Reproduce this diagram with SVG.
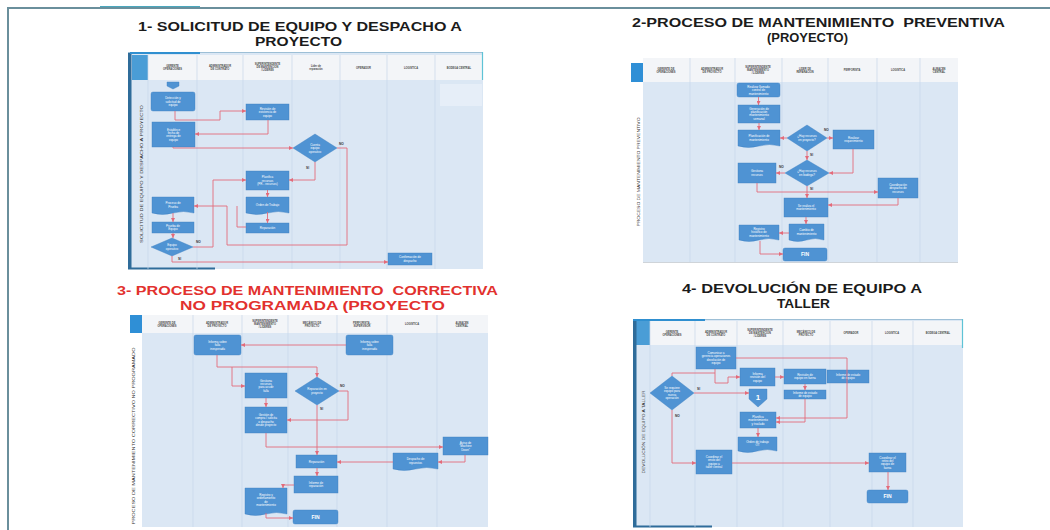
<svg xmlns="http://www.w3.org/2000/svg" width="1050" height="530" viewBox="0 0 1050 530">
<defs>
<marker id="a" markerUnits="userSpaceOnUse" markerWidth="4" markerHeight="4" refX="4" refY="2" orient="auto"><path d="M0,0 L4,2 L0,4 z" fill="#e36b7a"/></marker>
<style>
.title{font-family:"Liberation Sans",Arial,sans-serif;font-weight:bold;font-size:13px;fill:#1b1b1b}
.red{fill:#e2312e}
.body{fill:#dbe7f4}
.hdr{fill:#f3f5f8}
.sep{stroke:#c7d7ea;stroke-width:0.7}
.n{fill:#4f93d3;stroke:#3d7fbf;stroke-width:0.4}
.nt{font-family:"Liberation Sans",Arial,sans-serif;font-size:3px;fill:#ffffff;text-anchor:middle}
.fin{font-family:"Liberation Sans",Arial,sans-serif;font-size:5px;font-weight:bold;fill:#ffffff;text-anchor:middle}
.ht{font-family:"Liberation Sans",Arial,sans-serif;font-size:2.6px;font-weight:bold;fill:#4a4a4a;text-anchor:middle}
.lbl{font-family:"Liberation Sans",Arial,sans-serif;font-size:3.2px;font-weight:bold;fill:#333}
.side{font-family:"Liberation Sans",Arial,sans-serif;font-size:4px;fill:#333;text-anchor:middle}
.c{stroke:#e36b7a;stroke-width:0.9;fill:none;marker-end:url(#a)}
.cn{stroke:#e36b7a;stroke-width:0.9;fill:none}
</style>
</defs>
<rect width="1050" height="530" fill="#ffffff"/>
<!-- outer frame -->
<path d="M8,530 V8 H1050" fill="none" stroke="#6a8f9c" stroke-width="2"/>
<path d="M100,6.5 H200" stroke="#4aa7bd" stroke-width="1.2"/>

<!-- titles -->
<g id="titles">
<text class="title" x="138" y="31" textLength="324" lengthAdjust="spacingAndGlyphs">1- SOLICITUD DE EQUIPO Y DESPACHO A</text>
<text class="title" x="255" y="46" textLength="87" lengthAdjust="spacingAndGlyphs">PROYECTO</text>
<text class="title" x="632" y="27" textLength="373" lengthAdjust="spacingAndGlyphs" style="white-space:pre">2-PROCESO DE MANTENIMIENTO  PREVENTIVA</text>
<text class="title" x="767" y="42" textLength="81" lengthAdjust="spacingAndGlyphs">(PROYECTO)</text>
<text class="title red" x="117" y="295" textLength="381" lengthAdjust="spacingAndGlyphs" style="white-space:pre">3- PROCESO DE MANTENIMIENTO  CORRECTIVA</text>
<text class="title red" x="180" y="310" textLength="265" lengthAdjust="spacingAndGlyphs">NO PROGRAMADA (PROYECTO</text>
<text class="title" x="682" y="293" textLength="240" lengthAdjust="spacingAndGlyphs">4- DEVOLUCIÓN DE EQUIPO A</text>
<text class="title" x="777" y="308" textLength="53" lengthAdjust="spacingAndGlyphs">TALLER</text>
</g>

<!-- ================= PANEL 1 ================= -->
<g id="panel1">
<rect class="body" x="128" y="52" width="355" height="217"/>
<rect class="hdr" x="132" y="55" width="351" height="25"/>
<rect x="132" y="55" width="16" height="25" fill="#4a9dd6"/>
<rect x="128" y="52" width="3.5" height="217" fill="#2f6c9a"/>
<path d="M128,52.5 H483" stroke="#9dbfd6" stroke-width="1"/>
<path d="M130,53 H200" stroke="#2f8fd0" stroke-width="2"/>
<path d="M482.5,52 V80" stroke="#5ec3d6" stroke-width="1.2"/>
<path d="M128,268.5 H215" stroke="#2f6c9a" stroke-width="2"/>
<path class="sep" d="M148,55 V269 M197,55 V269 M243,55 V269 M292,55 V269 M340,55 V269 M387,55 V269 M435,55 V269"/>
<rect x="440" y="84" width="42" height="22" fill="#e6eef8"/>
<text class="ht" x="172.5" y="66.5"><tspan x="172.5">GERENTE</tspan><tspan x="172.5" dy="3.2">OPERACIONES</tspan></text>
<text class="ht" x="220" y="66.5"><tspan x="220">ADMINISTRADOR</tspan><tspan x="220" dy="3.2">DE CONTRATO</tspan></text>
<text class="ht" x="267.5" y="64.8"><tspan x="267.5">SUPERINTENDENTE</tspan><tspan x="267.5" dy="3.2">DE MANTENCION</tspan><tspan x="267.5" dy="3.2">/ LIDERES</tspan></text>
<text class="ht" x="316" y="66.5"><tspan x="316">Líder de</tspan><tspan x="316" dy="3.2">reparación</tspan></text>
<text class="ht" x="363.5" y="68.5">OPERADOR</text>
<text class="ht" x="411" y="68.5">LOGISTICA</text>
<text class="ht" x="459" y="68.5">BODEGA CENTRAL</text>
<text class="side" transform="rotate(-90 143 174)" x="143" y="174" textLength="138" lengthAdjust="spacingAndGlyphs">SOLICITUD DE EQUIPO Y DESPACHO A PROYECTO</text>
</g>
<g id="p1-start"><path class="n" d="M167,82 H179 V86 L173,89 L167,86 Z"/></g>
<g id="p1-deteccion"><rect class="n" x="151" y="92" width="44" height="19" rx="2"/><text class="nt" y="99.2"><tspan x="173">Detección y</tspan><tspan x="173" dy="3.4">solicitud de</tspan><tspan x="173" dy="3.4">equipo</tspan></text></g>
<g id="p1-revision"><rect class="n" x="246" y="104" width="43" height="16"/><text class="nt" y="109.7"><tspan x="267.5">Revisión de</tspan><tspan x="267.5" dy="3.4">existencia de</tspan><tspan x="267.5" dy="3.4">equipo</tspan></text></g>
<g id="p1-establece"><rect class="n" x="152" y="122" width="43" height="25"/><text class="nt" y="130.5"><tspan x="173.5">Establece</tspan><tspan x="173.5" dy="3.4">fecha de</tspan><tspan x="173.5" dy="3.4">entrega de</tspan><tspan x="173.5" dy="3.4">equipo</tspan></text></g>
<g id="p1-d1"><polygon class="n" points="315,134 337,148 315,162 293,148"/><text class="nt" y="145.7"><tspan x="315">Cuenta</tspan><tspan x="315" dy="3.4">equipo</tspan><tspan x="315" dy="3.4">operativo</tspan></text></g>
<g id="p1-planifica"><rect class="n" x="246" y="171" width="43" height="19"/><text class="nt" y="178.2"><tspan x="267.5">Planifica</tspan><tspan x="267.5" dy="3.4">recursos</tspan><tspan x="267.5" dy="3.4">(PR - recursos)</tspan></text></g>
<g id="p1-orden"><path class="n" d="M246,197 H289 V213 Q278.25,210 267.5,213 T246,213 Z"/><text class="nt" x="267.5" y="206">Orden de Trabajo</text></g>
<g id="p1-reparacion"><rect class="n" x="246" y="223" width="43" height="10"/><text class="nt" x="267.5" y="229.1">Reparación</text></g>
<g id="p1-proceso"><path class="n" d="M152,197 H194 V213 Q183.5,210 173,213 T152,213 Z"/><text class="nt" y="204.2"><tspan x="173">Proceso de</tspan><tspan x="173" dy="3.4">Prueba</tspan></text></g>
<g id="p1-prueba"><rect class="n" x="152" y="222" width="42" height="11"/><text class="nt" y="226.9"><tspan x="173">Prueba de</tspan><tspan x="173" dy="3.4">Equipo</tspan></text></g>
<g id="p1-d2"><polygon class="n" points="172,238 193,247 172,256 151,247"/><text class="nt" y="246.4"><tspan x="172">Equipo</tspan><tspan x="172" dy="3.4">operativo</tspan></text></g>
<g id="p1-confirmacion"><rect class="n" x="388" y="253" width="44" height="12"/><text class="nt" y="258.4"><tspan x="410">Confirmación de</tspan><tspan x="410" dy="3.4">despacho</tspan></text></g>
<g id="p1-connectors">
<path class="c" d="M175,111 V120 H220 V111 H246"/>
<path class="c" d="M268,120 V134 H195"/>
<path class="c" d="M173,147 V148 H293"/>
<path class="c" d="M337,148 H347 V245 H227 V206 H194"/>
<path class="cn" d="M246,227 H237 V206"/>
<path class="c" d="M315,162 V180 H289"/>
<path class="c" d="M267.5,190 V197"/>
<path class="c" d="M267.5,212 V223"/>
<path class="c" d="M173,213 V222"/>
<path class="c" d="M173,233 V238"/>
<path class="c" d="M193,247 H213 V180 H246"/>
<path class="c" d="M172,256 V262 H388"/>
<text class="lbl" x="339" y="145">NO</text>
<text class="lbl" x="306" y="169">SI</text>
<text class="lbl" x="196" y="243">NO</text>
<text class="lbl" x="178" y="260">SI</text>
</g>

<!-- ================= PANEL 2 ================= -->
<g id="panel2">
<rect x="631" y="63" width="12" height="19" fill="#2f8fd6"/>
<rect class="hdr" x="643" y="58" width="315" height="24"/>
<rect class="body" x="643" y="82" width="315" height="180"/>
<path d="M643,262.5 H958" stroke="#c3c9cf" stroke-width="0.8"/>
<path class="sep" d="M690,58 V262 M735,58 V262 M782,58 V262 M828,58 V262 M877,58 V262 M920,58 V262"/>
<text class="ht" y="69.5"><tspan x="666">GERENTE DE</tspan><tspan x="666" dy="3.2">OPERACIONES</tspan></text>
<text class="ht" y="69.5"><tspan x="712">ADMINISTRADOR</tspan><tspan x="712" dy="3.2">DE PROYECTO</tspan></text>
<text class="ht" y="67.8"><tspan x="758">SUPERINTENDENTE</tspan><tspan x="758" dy="3.2">MANTENIMIENTO</tspan><tspan x="758" dy="3.2">/ LIDERES</tspan></text>
<text class="ht" y="69.5"><tspan x="805">LIDER DE</tspan><tspan x="805" dy="3.2">REPARACION</tspan></text>
<text class="ht" x="852" y="71">PERFORISTA</text>
<text class="ht" x="898" y="71">LOGISTICA</text>
<text class="ht" y="69.5"><tspan x="939">ALMACEN</tspan><tspan x="939" dy="3.2">CENTRAL</tspan></text>
<text class="side" transform="rotate(-90 640 172)" x="640" y="172" textLength="109" lengthAdjust="spacingAndGlyphs">PROCESO DE MANTENIMIENTO PREVENTIVO</text>
</g>
<g id="p2-llamado"><rect class="n" x="737" y="83" width="43" height="14" rx="2"/><text class="nt" y="87.7"><tspan x="758.5">Realizar llamado</tspan><tspan x="758.5" dy="3.4">control de</tspan><tspan x="758.5" dy="3.4">mantenimiento</tspan></text></g>
<g id="p2-generacion"><rect class="n" x="738" y="105" width="42" height="18"/><text class="nt" y="109.6"><tspan x="759">Generación de</tspan><tspan x="759" dy="3.4">planificación</tspan><tspan x="759" dy="3.4">mantenimiento</tspan><tspan x="759" dy="3.4">semanal</tspan></text></g>
<g id="p2-planificacion"><path class="n" d="M738,130 H780 V146 Q769.5,143 759,146 T738,146 Z"/><text class="nt" y="137.2"><tspan x="759">Planificación de</tspan><tspan x="759" dy="3.4">mantenimiento</tspan></text></g>
<g id="p2-d1"><polygon class="n" points="807,125 827,138 807,151 787,138"/><text class="nt" y="137.4"><tspan x="807">¿Hay recursos</tspan><tspan x="807" dy="3.4">en proyecto?</tspan></text></g>
<g id="p2-requerimiento"><rect class="n" x="833" y="130" width="41" height="19"/><text class="nt" y="138.9"><tspan x="853.5">Realizar</tspan><tspan x="853.5" dy="3.4">requerimiento</tspan></text></g>
<g id="p2-d2"><polygon class="n" points="807,160 829,173 807,186 785,173"/><text class="nt" y="172.4"><tspan x="807">¿Hay recursos</tspan><tspan x="807" dy="3.4">en bodega?</tspan></text></g>
<g id="p2-gestiona"><rect class="n" x="738" y="163" width="38" height="20"/><text class="nt" y="172.4"><tspan x="757">Gestiona</tspan><tspan x="757" dy="3.4">recursos</tspan></text></g>
<g id="p2-coordinacion"><rect class="n" x="878" y="178" width="40" height="20"/><text class="nt" y="185.7"><tspan x="898">Coordinación</tspan><tspan x="898" dy="3.4">despacho de</tspan><tspan x="898" dy="3.4">recursos</tspan></text></g>
<g id="p2-realiza"><rect class="n" x="784" y="198" width="44" height="19"/><text class="nt" y="206.9"><tspan x="806">Se realiza el</tspan><tspan x="806" dy="3.4">mantenimiento</tspan></text></g>
<g id="p2-cambio"><path class="n" d="M789,224 H824 V240 Q815.25,237 806.5,240 T789,240 Z"/><text class="nt" y="231.2"><tspan x="806.5">Cambio de</tspan><tspan x="806.5" dy="3.4">mantenimiento</tspan></text></g>
<g id="p2-registro"><path class="n" d="M739,225 H779 V240 Q769,237 759,240 T739,240 Z"/><text class="nt" y="229.8"><tspan x="759">Registro</tspan><tspan x="759" dy="3.4">histórico de</tspan><tspan x="759" dy="3.4">mantenimiento</tspan></text></g>
<g id="p2-fin"><rect class="n" x="783" y="248" width="44" height="13" rx="2"/><text class="fin" x="805" y="256.3">FIN</text></g>
<g id="p2-connectors">
<path class="c" d="M758.5,97 V105"/>
<path class="c" d="M759,123 V130"/>
<path class="c" d="M787,138 H780"/>
<path class="c" d="M827,138 H833"/>
<path class="c" d="M853,149 V173 H829"/>
<path class="c" d="M807,151 V160"/>
<path class="c" d="M785,173 H776"/>
<path class="c" d="M757,183 V192 H878"/>
<path class="c" d="M807,186 V198"/>
<path class="c" d="M898,198 V205 H828"/>
<path class="c" d="M806,217 V224"/>
<path class="c" d="M789,233 H779"/>
<path class="c" d="M760,241 V254 H783"/>
<text class="lbl" x="824" y="131">NO</text>
<text class="lbl" x="810" y="156">SI</text>
<text class="lbl" x="779" y="168">NO</text>
<text class="lbl" x="810" y="190">SI</text>
</g>

<!-- ================= PANEL 3 ================= -->
<g id="panel3">
<rect x="130" y="315" width="12" height="18" fill="#2f8fd6"/>
<rect class="hdr" x="142" y="315" width="346" height="18"/>
<rect class="body" x="142" y="333" width="346" height="194"/>
<path class="sep" d="M193,315 V527 M242,315 V527 M288,315 V527 M337,315 V527 M387,315 V527 M437,315 V527"/>
<text class="ht" y="323.5"><tspan x="167">GERENTE DE</tspan><tspan x="167" dy="3.2">OPERACIONES</tspan></text>
<text class="ht" y="323.5"><tspan x="217">ADMINISTRADOR</tspan><tspan x="217" dy="3.2">DE PROYECTO</tspan></text>
<text class="ht" y="321.8"><tspan x="265">SUPERINTENDENTE</tspan><tspan x="265" dy="3.2">MANTENIMIENTO</tspan><tspan x="265" dy="3.2">/ LIDERES</tspan></text>
<text class="ht" y="323.5"><tspan x="312">MECÁNICO DE</tspan><tspan x="312" dy="3.2">PROYECTO</tspan></text>
<text class="ht" y="323.5"><tspan x="362">PERFORISTA -</tspan><tspan x="362" dy="3.2">SUPERVISOR</tspan></text>
<text class="ht" x="412" y="325">LOGISTICA</text>
<text class="ht" y="323.5"><tspan x="462">ALMACEN</tspan><tspan x="462" dy="3.2">CENTRAL</tspan></text>
<text class="side" transform="rotate(-90 135 436)" x="135" y="436" textLength="177" lengthAdjust="spacingAndGlyphs">PROCESO DE MANTENIMIENTO CORRECTIVO NO PROGRAMADO</text>
</g>
<g id="p3-informa1"><rect class="n" x="194" y="335" width="47" height="20" rx="2"/><text class="nt" y="342.7"><tspan x="217.5">Informa sobre</tspan><tspan x="217.5" dy="3.4">falla</tspan><tspan x="217.5" dy="3.4">inesperada</tspan></text></g>
<g id="p3-informa2"><rect class="n" x="346" y="335" width="47" height="20" rx="2"/><text class="nt" y="342.7"><tspan x="369.5">Informa sobre</tspan><tspan x="369.5" dy="3.4">falla</tspan><tspan x="369.5" dy="3.4">inesperada</tspan></text></g>
<g id="p3-gestiona"><rect class="n" x="245" y="373" width="42" height="25"/><text class="nt" y="381.5"><tspan x="266">Gestiona</tspan><tspan x="266" dy="3.4">recursos</tspan><tspan x="266" dy="3.4">para acudir</tspan><tspan x="266" dy="3.4">falla</tspan></text></g>
<g id="p3-d"><polygon class="n" points="317,377 339,391 317,405 295,391"/><text class="nt" y="390.4"><tspan x="317">Reparación en</tspan><tspan x="317" dy="3.4">proyecto</tspan></text></g>
<g id="p3-compra"><rect class="n" x="245" y="407" width="42" height="26"/><text class="nt" y="416"><tspan x="266">Gestión de</tspan><tspan x="266" dy="3.4">compra / solicita</tspan><tspan x="266" dy="3.4">o despacho</tspan><tspan x="266" dy="3.4">desde proyecto</tspan></text></g>
<g id="p3-aviso"><rect class="n" x="443" y="437" width="45" height="18"/><text class="nt" y="443.7"><tspan x="465.5">Aviso de</tspan><tspan x="465.5" dy="3.4">"Machine</tspan><tspan x="465.5" dy="3.4">Down"</tspan></text></g>
<g id="p3-reparacion"><rect class="n" x="296" y="455" width="41" height="13"/><text class="nt" x="316.5" y="462.6">Reparación</text></g>
<g id="p3-despacho"><path class="n" d="M393,453 H438 V469 Q426.75,466 415.5,469 T393,469 Z"/><text class="nt" y="460.2"><tspan x="415.5">Despacho de</tspan><tspan x="415.5" dy="3.4">repuestos</tspan></text></g>
<g id="p3-informe"><rect class="n" x="294" y="476" width="44" height="17"/><text class="nt" y="483.9"><tspan x="316">Informe de</tspan><tspan x="316" dy="3.4">reparación</tspan></text></g>
<g id="p3-registro"><path class="n" d="M245,488 H287 V514 Q276.5,511 266,514 T245,514 Z"/><text class="nt" y="496"><tspan x="266">Registro y</tspan><tspan x="266" dy="3.4">ordenamiento</tspan><tspan x="266" dy="3.4">de</tspan><tspan x="266" dy="3.4">mantenimiento</tspan></text></g>
<g id="p3-fin"><rect class="n" x="293" y="510" width="45" height="14" rx="2"/><text class="fin" x="315.5" y="518.8">FIN</text></g>
<g id="p3-connectors">
<path class="c" d="M346,345 H241"/>
<path class="c" d="M217,355 V367 H317 V377"/>
<path class="c" d="M232,367 V386 H245"/>
<path class="c" d="M266,398 V407"/>
<path class="c" d="M339,391 H348 V420 H287"/>
<path class="c" d="M317,405 V455"/>
<path class="c" d="M266,433 V447 H443"/>
<path class="c" d="M465,455 V462 H438"/>
<path class="c" d="M393,462 H337"/>
<path class="c" d="M317,468 V476"/>
<path class="c" d="M294,485 H283 V488"/>
<path class="c" d="M266,513 V518 H293"/>
<text class="lbl" x="340" y="387">NO</text>
<text class="lbl" x="320" y="410">SI</text>
</g>

<!-- ================= PANEL 4 ================= -->
<g id="panel4">
<rect class="body" x="633" y="319" width="330" height="208"/>
<rect class="hdr" x="636" y="321" width="327" height="24"/>
<rect x="636" y="321" width="14" height="24" fill="#4a9dd6"/>
<rect x="633" y="319" width="3.5" height="208" fill="#2f6c9a"/>
<path d="M633,319.5 H963" stroke="#9dbfd6" stroke-width="1"/>
<path d="M633,320 H705" stroke="#2f8fd0" stroke-width="2"/>
<path d="M962.5,319 V348" stroke="#5ec3d6" stroke-width="1.2"/>
<path d="M633,526.5 H712" stroke="#2f6c9a" stroke-width="2"/>
<path class="sep" d="M650,321 V527 M695,321 V527 M737,321 V527 M783,321 V527 M830,321 V527 M872,321 V527 M913,321 V527"/>
<text class="ht" y="332.5"><tspan x="672">GERENTE</tspan><tspan x="672" dy="3.2">OPERACIONES</tspan></text>
<text class="ht" y="332.5"><tspan x="716">ADMINISTRADOR</tspan><tspan x="716" dy="3.2">DE CONTRATO</tspan></text>
<text class="ht" y="330.8"><tspan x="760">SUPERINTENDENTE</tspan><tspan x="760" dy="3.2">DE MANTENCION</tspan><tspan x="760" dy="3.2">/ LIDERES</tspan></text>
<text class="ht" y="332.5"><tspan x="806">MECÁNICO DE</tspan><tspan x="806" dy="3.2">PROYECTO</tspan></text>
<text class="ht" x="851" y="334">OPERADOR</text>
<text class="ht" x="892" y="334">LOGISTICA</text>
<text class="ht" x="938" y="334">BODEGA CENTRAL</text>
<text class="side" transform="rotate(-90 645 432)" x="645" y="432" textLength="83" lengthAdjust="spacingAndGlyphs">DEVOLUCIÓN DE EQUIPO A TALLER</text>
</g>
<g id="p4-comunicar"><rect class="n" x="696" y="347" width="40" height="22"/><text class="nt" y="354"><tspan x="716">Comunicar a</tspan><tspan x="716" dy="3.4">gerencia operaciones</tspan><tspan x="716" dy="3.4">devolución de</tspan><tspan x="716" dy="3.4">equipo</tspan></text></g>
<g id="p4-informa"><rect class="n" x="740" y="368" width="35" height="18"/><text class="nt" y="374.7"><tspan x="757.5">Informa</tspan><tspan x="757.5" dy="3.4">revisión del</tspan><tspan x="757.5" dy="3.4">equipo</tspan></text></g>
<g id="p4-revision"><rect class="n" x="784" y="369" width="42" height="15"/><text class="nt" y="375.9"><tspan x="805">Revisión de</tspan><tspan x="805" dy="3.4">equipo en faena</tspan></text></g>
<g id="p4-informe1"><rect class="n" x="827" y="370" width="42" height="13"/><text class="nt" y="375.9"><tspan x="848">Informe de estado</tspan><tspan x="848" dy="3.4">de equipo</tspan></text></g>
<g id="p4-informe2"><rect class="n" x="784" y="390" width="42" height="9"/><text class="nt" y="393.9"><tspan x="805">Informe de estado</tspan><tspan x="805" dy="3.4">de equipo</tspan></text></g>
<g id="p4-d"><polygon class="n" points="672,376 694,393 672,410 650,393"/><text class="nt" y="389"><tspan x="672">Se requiere</tspan><tspan x="672" dy="3.4">equipo para</tspan><tspan x="672" dy="3.4">nueva</tspan><tspan x="672" dy="3.4">operación</tspan></text></g>
<g id="p4-conector1"><path class="n" d="M749,389 H767 V399 L758,407 L749,399 Z"/><text class="fin" x="758" y="400" style="font-size:8px">1</text></g>
<g id="p4-planifica"><rect class="n" x="740" y="412" width="36" height="16"/><text class="nt" y="417.7"><tspan x="758">Planifica</tspan><tspan x="758" dy="3.4">mantenimiento</tspan><tspan x="758" dy="3.4">y traslado</tspan></text></g>
<g id="p4-orden"><path class="n" d="M738,437 H777 V451 Q767.25,448 757.5,451 T738,451 Z"/><text class="nt" y="442.9"><tspan x="757.5">Orden de trabajo</tspan><tspan x="757.5" dy="3.4">OT</tspan></text></g>
<g id="p4-envio"><rect class="n" x="696" y="450" width="36" height="24"/><text class="nt" y="458"><tspan x="714">Coordinar el</tspan><tspan x="714" dy="3.4">envío del</tspan><tspan x="714" dy="3.4">equipo a</tspan><tspan x="714" dy="3.4">taller central</tspan></text></g>
<g id="p4-retiro"><rect class="n" x="869" y="453" width="37" height="19"/><text class="nt" y="458.5"><tspan x="887.5">Coordinar el</tspan><tspan x="887.5" dy="3.4">retiro del</tspan><tspan x="887.5" dy="3.4">equipo de</tspan><tspan x="887.5" dy="3.4">faena</tspan></text></g>
<g id="p4-fin"><rect class="n" x="867" y="490" width="41" height="13" rx="2"/><text class="fin" x="887.5" y="498.3">FIN</text></g>
<g id="p4-connectors">
<path class="c" d="M736,358 H847 V418 H776"/>
<path class="c" d="M715,369 V383 H728 V377 H740"/>
<path class="cn" d="M672,376 V373 H715"/>
<path class="c" d="M775,377 H784"/>
<path class="c" d="M805,384 V390"/>
<path class="c" d="M805,399 V422 H776"/>
<path class="c" d="M694,393 H749"/>
<path class="c" d="M672,410 V463 H696"/>
<path class="c" d="M758,428 V437"/>
<path class="c" d="M732,463 H869"/>
<path class="c" d="M888,472 V490"/>
<text class="lbl" x="697" y="390">SI</text>
<text class="lbl" x="675" y="417">NO</text>
</g>
</svg>
